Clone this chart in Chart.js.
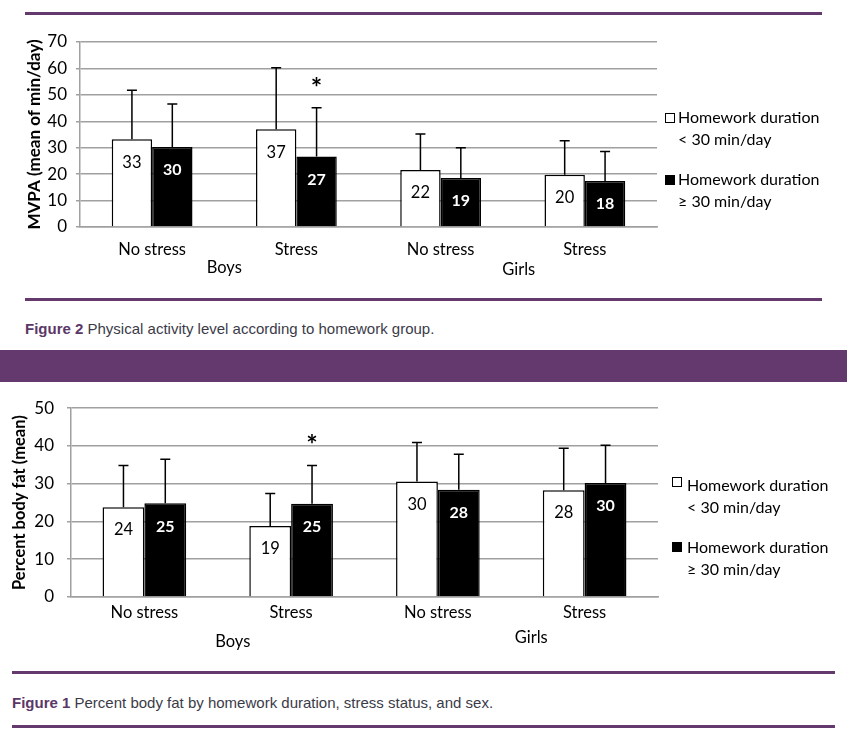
<!DOCTYPE html>
<html lang="en">
<head>
<meta charset="UTF-8">
<title>Homework duration, stress status and sex</title>
<script src="https://cdn.jsdelivr.net/npm/chart.js"></script>
<style>
  body { margin: 0; background: #fff; }
  #page { position: relative; width: 847px; height: 740px; overflow: hidden; font-family: Lato, sans-serif; }
  .rule { position: absolute; height: 3px; background: #643a6e; }
  .band { position: absolute; left: 0; top: 350px; width: 847px; height: 32px; background: #643a6e; }
  .caption { position: absolute; font-family: "Liberation Sans", Arial, sans-serif; font-size: 15px; color: #3b3b48; white-space: nowrap; }
  .caption b { color: #5b3768; }
  canvas { position: absolute; left: 0; }
  .key { position: absolute; width: 8px; height: 8px; border: 1px solid #000; }
  .ltext { position: absolute; font-size: 16px; line-height: 22px; color: #000; white-space: nowrap; }
</style>
</head>
<body>
<div id="page">
  <div class="rule" style="left:25px; width:797px; top:12px;"></div>
  <canvas id="graficoMvpa" width="847" height="290" style="top:0;"></canvas>
  <div class="key" style="left:665px; top:113px; background:#fff;"></div>
  <div class="ltext" style="left:678px; top:106px;">Homework duration<br>&lt; 30 min/day</div>
  <div class="key" style="left:665px; top:175px; background:#000;"></div>
  <div class="ltext" style="left:678px; top:168px;">Homework duration<br>≥ 30 min/day</div>
  <div class="rule" style="left:25px; width:797px; top:298px;"></div>
  <div class="caption" style="left:25px; top:320px;"><b>Figure 2</b> Physical activity level according to homework group.</div>
  <div class="band"></div>

  <canvas id="graficoGordura" width="847" height="290" style="top:385px;"></canvas>
  <div class="key" style="left:672px; top:477px; background:#fff;"></div>
  <div class="ltext" style="left:687px; top:474px;">Homework duration<br>&lt; 30 min/day</div>
  <div class="key" style="left:672px; top:542px; background:#000;"></div>
  <div class="ltext" style="left:687px; top:536px;">Homework duration<br>≥ 30 min/day</div>
  <div class="rule" style="left:12px; width:823px; top:671px;"></div>
  <div class="caption" style="left:12px; top:694px;"><b>Figure 1</b> Percent body fat by homework duration, stress status, and sex.</div>
  <div class="rule" style="left:12px; width:823px; top:725px;"></div>
</div>

<script>
  const categorias = ['No stress', 'Stress', 'No stress', 'Stress'];
  const grupos = ['Boys', 'Girls'];
  const series = ['Homework duration < 30 min/day', 'Homework duration ≥ 30 min/day'];

  // Figure 2: MVPA (mean of min/day)
  const mvpaMenos30 = [33.2, 37.0, 21.6, 19.8];
  const mvpaMais30 = [30.3, 26.7, 18.5, 17.4];
  const mvpaDpMenos30 = [18.5, 23.3, 13.6, 12.8];
  const mvpaDpMais30 = [16.2, 18.4, 11.5, 11.2];
  const mvpaRotMenos30 = ['33', '37', '22', '20'];
  const mvpaRotMais30 = ['30', '27', '19', '18'];
  const mvpaTicks = [0, 10, 20, 30, 40, 50, 60, 70];

  // Figure 1: percent body fat (mean)
  const gorduraMenos30 = [23.8, 18.8, 30.6, 28.3];
  const gorduraMais30 = [24.8, 24.7, 28.4, 30.2];
  const gorduraDpMenos30 = [11.0, 8.6, 10.3, 11.1];
  const gorduraDpMais30 = [11.7, 10.1, 9.4, 10.0];
  const gorduraRotMenos30 = ['24', '19', '30', '28'];
  const gorduraRotMais30 = ['25', '25', '28', '30'];
  const gorduraTicks = [0, 10, 20, 30, 40, 50];

  // significant difference: [dataset, category]
  const asterisco = [1, 1];

  Chart.defaults.font.family = 'Lato, sans-serif';
  Chart.defaults.font.size = 16;
  Chart.defaults.color = '#000';

  const anotacoes = {
    id: 'anotacoes',
    afterDatasetsDraw(chart, args, opts) {
      const ctx = chart.ctx;
      const y = chart.scales.y;
      ctx.save();
      ctx.textAlign = 'center';
      ctx.textBaseline = 'middle';
      chart.data.datasets.forEach((ds, di) => {
        chart.getDatasetMeta(di).data.forEach((bar, i) => {
          const topo = y.getPixelForValue(ds.data[i] + opts.erros[di][i]);
          ctx.strokeStyle = '#000';
          ctx.lineWidth = 1.5;
          ctx.beginPath();
          ctx.moveTo(bar.x, bar.y);
          ctx.lineTo(bar.x, topo);
          ctx.moveTo(bar.x - 5, topo);
          ctx.lineTo(bar.x + 5, topo);
          ctx.stroke();

          ctx.font = di ? 'bold 16px Lato' : '16.5px Lato';
          ctx.fillStyle = di ? '#fff' : '#000';
          ctx.fillText(opts.rotulos[di][i], bar.x, bar.y + 23);

          if (di === asterisco[0] && i === asterisco[1]) {
            ctx.font = 'bold 27px Lato';
            ctx.fillStyle = '#000';
            ctx.fillText('*', bar.x, topo - 20);
          }
        });
      });

      const x = chart.scales.x;
      const zero = y.getPixelForValue(0);
      ctx.font = '16.5px Lato';
      ctx.fillStyle = '#000';
      grupos.forEach((g, gi) => {
        const meio = (x.getPixelForValue(gi * 2) + x.getPixelForValue(gi * 2 + 1)) / 2;
        ctx.fillText(g, meio + opts.grupoDx[gi], zero + opts.grupoDy[gi]);
      });
      ctx.restore();
    }
  };

  function criarGrafico(id, dados, cfg) {
    const ctx = document.getElementById(id).getContext('2d');
    return new Chart(ctx, {
      type: 'bar',
      data: {
        labels: categorias,
        datasets: [{
          label: series[0],
          data: dados.menos30,
          backgroundColor: '#fff',
          borderColor: '#000',
          borderWidth: 1.5,
          barPercentage: 1,
          categoryPercentage: cfg.catPct
        }, {
          label: series[1],
          data: dados.mais30,
          backgroundColor: '#000',
          borderColor: '#000',
          borderWidth: 1.5,
          barPercentage: 1,
          categoryPercentage: cfg.catPct
        }]
      },
      options: {
        responsive: false,
        animation: false,
        layout: { padding: cfg.padding },
        plugins: {
          legend: { display: false },
          tooltip: { enabled: false },
          anotacoes: {
            erros: [dados.dpMenos30, dados.dpMais30],
            rotulos: [dados.rotMenos30, dados.rotMais30],
            grupoDx: cfg.grupoDx,
            grupoDy: cfg.grupoDy
          }
        },
        scales: {
          x: {
            grid: { display: false, drawTicks: false },
            border: { color: '#a0a0a0', width: 1.5 },
            ticks: { padding: cfg.xPad, font: { size: 16.5 } },
            afterFit: s => { s.height = 40; }
          },
          y: {
            min: 0,
            max: dados.ticks[dados.ticks.length - 1],
            afterBuildTicks: s => { s.ticks = dados.ticks.map(v => ({ value: v })); },
            grid: { color: '#a0a0a0', lineWidth: 1.5, tickLength: 4 },
            border: { color: '#a0a0a0', width: 1.5 },
            ticks: { padding: cfg.yPad, font: { size: 17 } },
            title: {
              display: true,
              text: cfg.titulo,
              font: { size: cfg.tituloTam, weight: 'bold' },
              padding: { top: cfg.tituloPad, bottom: 0 }
            },
            afterFit: s => { s.width = cfg.eixoY; }
          }
        }
      },
      plugins: [anotacoes]
    });
  }

  criarGrafico('graficoMvpa', {
    menos30: mvpaMenos30, mais30: mvpaMais30,
    dpMenos30: mvpaDpMenos30, dpMais30: mvpaDpMais30,
    rotMenos30: mvpaRotMenos30, rotMais30: mvpaRotMais30,
    ticks: mvpaTicks
  }, {
    titulo: 'MVPA (mean of min/day)', tituloTam: 17,
    padding: { top: 42, right: 190, bottom: 23, left: 0 },
    eixoY: 80, catPct: 0.56, xPad: 13, yPad: 9, tituloPad: 24,
    grupoDx: [0, 6], grupoDy: [41, 43]
  });

  criarGrafico('graficoGordura', {
    menos30: gorduraMenos30, mais30: gorduraMais30,
    dpMenos30: gorduraDpMenos30, dpMais30: gorduraDpMais30,
    rotMenos30: gorduraRotMenos30, rotMais30: gorduraRotMais30,
    ticks: gorduraTicks
  }, {
    titulo: 'Percent body fat (mean)', tituloTam: 16.5,
    padding: { top: 21, right: 189, bottom: 38, left: 0 },
    eixoY: 71, catPct: 0.57, xPad: 6, yPad: 13, tituloPad: 10,
    grupoDx: [15, 20], grupoDy: [45, 41]
  });
</script>
</body>
</html>
